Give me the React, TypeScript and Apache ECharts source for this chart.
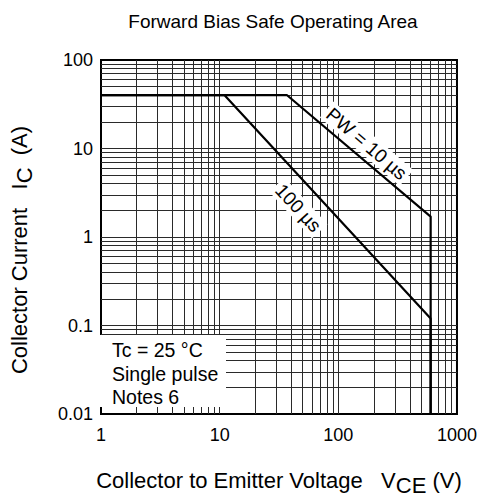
import React, { useEffect, useRef } from "react";
import * as echarts from "echarts";

const FONT = "'Liberation Sans', Arial, sans-serif";

// Curve data (V_CE in V, I_C in A)
const vce10us = [1, 37, 600, 600];
const ic10us = [40, 40, 1.7, 0.01];
const vce100us = [1, 11, 600, 600];
const ic100us = [40, 40, 0.12, 0.01];

// Axis ranges and tick labels
const xMin = 1;
const xMax = 1000;
const yMin = 0.01;
const yMax = 100;
const xTickLabels = ["1", "10", "100", "1000"];
const yTickLabels = ["0.01", "0.1", "1", "10", "100"];

// Grid lines (log grid: 2..9 in each decade, plus decades)
const xGridValues = [2, 3, 4, 5, 6, 7, 8, 9, 10, 20, 30, 40, 50, 60, 70, 80, 90, 100, 200, 300, 400, 500, 600, 700, 800, 900];
const yGridValues = [0.02, 0.03, 0.04, 0.05, 0.06, 0.07, 0.08, 0.09, 0.1, 0.2, 0.3, 0.4, 0.5, 0.6, 0.7, 0.8, 0.9, 1, 2, 3, 4, 5, 6, 7, 8, 9, 10, 20, 30, 40, 50, 60, 70, 80, 90];

// Curve labels: [V_CE, I_C] anchor and text
const label10us = { text: "PW = 10 µs", at: [173, 11.3] };
const label100us = { text: "100 µs", at: [46, 2.13] };

const noteLines = ["Tc = 25 °C", "Single pulse", "Notes 6"];

function fmt(v: number): string {
  const n = Number(v.toPrecision(3));
  return String(n);
}

export default function App() {
  const ref = useRef<HTMLDivElement>(null);

  useEffect(() => {
    document.body.style.margin = "0";
    if (!ref.current) return;
    const chart = echarts.init(ref.current, undefined, { renderer: "svg" });

    const gridColor = "#2a2a2a";
    const s10 = vce10us.map((x, i) => [x, ic10us[i]]);
    const s100 = vce100us.map((x, i) => [x, ic100us[i]]);

    const option: any = {
      animation: false,
      backgroundColor: "#fff",
      textStyle: { fontFamily: FONT },
      title: {
        text: "Forward Bias Safe Operating Area",
        left: 268,
        textAlign: "center",
        top: 7,
        textStyle: { fontFamily: FONT, fontSize: 19, fontWeight: "normal", color: "#000" },
      },
      grid: {
        left: 98,
        top: 60,
        right: 23,
        bottom: 82,
        show: true,
        borderColor: "#000",
        borderWidth: 2,
        backgroundColor: "#fff",
      },
      xAxis: {
        type: "log",
        logBase: 10,
        min: xMin,
        max: xMax,
        axisLine: { show: false },
        axisTick: { show: false },
        splitLine: { show: false },
        axisLabel: {
          color: "#000",
          fontSize: 18,
          fontFamily: FONT,
          margin: 12,
          formatter: (v: number) => {
            const s = fmt(v);
            return xTickLabels.includes(s) ? s : "";
          },
        },
        name: "{a|Collector to Emitter Voltage   V}{sub|CE}{a| (V)}",
        nameLocation: "middle",
        nameGap: 50,
        nameTextStyle: {
          rich: {
            a: { fontSize: 22, fontFamily: FONT, color: "#000" },
            sub: { fontSize: 22, fontFamily: FONT, color: "#000", padding: [10, 0, 0, 0] },
          },
        },
      },
      yAxis: {
        type: "log",
        logBase: 10,
        min: yMin,
        max: yMax,
        axisLine: { show: false },
        axisTick: { show: false },
        splitLine: { show: false },
        axisLabel: {
          color: "#000",
          fontSize: 18,
          fontFamily: FONT,
          margin: 8,
          formatter: (v: number) => {
            const s = fmt(v);
            return yTickLabels.includes(s) ? s : "";
          },
        },
        name: "{a|Collector Current   I}{sub|C}{a|  (A)}",
        nameLocation: "middle",
        nameRotate: 90,
        nameGap: 66,
        nameTextStyle: {
          padding: [0, 26, 0, 0],
          rich: {
            a: { fontSize: 22, fontFamily: FONT, color: "#000" },
            sub: { fontSize: 22, fontFamily: FONT, color: "#000", padding: [10, 0, 0, 0] },
          },
        },
      },
      series: [
        {
          type: "line",
          name: "grid",
          data: [],
          silent: true,
          markLine: {
            silent: true,
            symbol: ["none", "none"],
            label: { show: false },
            lineStyle: { color: gridColor, width: 1, type: "solid" },
            data: [
              ...xGridValues.map((v) => ({ xAxis: v })),
              ...yGridValues.map((v) => ({ yAxis: v })),
            ],
          },
        },
        {
          type: "line",
          name: "10us",
          data: s10,
          symbol: "none",
          lineStyle: { color: "#000", width: 2.2 },
          z: 5,
          markPoint: {
            symbol: "rect",
            symbolSize: 0.01,
            itemStyle: { color: "transparent" },
            label: {
              show: true,
              position: "inside",
              formatter: label10us.text,
              rotate: -40.6,
              fontSize: 19,
              fontFamily: FONT,
              color: "#000",
              backgroundColor: "#fff",
              padding: [1, 3],
            },
            data: [{ coord: label10us.at }],
          },
        },
        {
          type: "line",
          name: "100us",
          data: s100,
          symbol: "none",
          lineStyle: { color: "#000", width: 2.2 },
          z: 5,
          markPoint: {
            symbol: "rect",
            symbolSize: 0.01,
            itemStyle: { color: "transparent" },
            label: {
              show: true,
              position: "inside",
              formatter: label100us.text,
              rotate: -47.5,
              fontSize: 19,
              fontFamily: FONT,
              color: "#000",
              backgroundColor: "#fff",
              padding: [1, 3],
            },
            data: [{ coord: label100us.at }],
          },
        },
      ],
      graphic: [
        {
          type: "group",
          left: 100,
          top: 335,
          z: 100,
          children: [
            {
              type: "rect",
              shape: { x: 0, y: 0, width: 126, height: 72 },
              style: { fill: "#fff" },
              z: 100,
            },
            ...noteLines.map((t, i) => ({
              type: "text",
              x: 12,
              y: 15 + i * 23.5,
              z: 101,
              style: {
                text: t,
                fontSize: 19.5,
                fontFamily: FONT,
                fill: "#000",
                verticalAlign: "middle",
              },
            })),
          ],
        },
      ],
    };

    chart.setOption(option);
    return () => chart.dispose();
  }, []);

  return <div ref={ref} style={{ width: 480, height: 501 }} />;
}
